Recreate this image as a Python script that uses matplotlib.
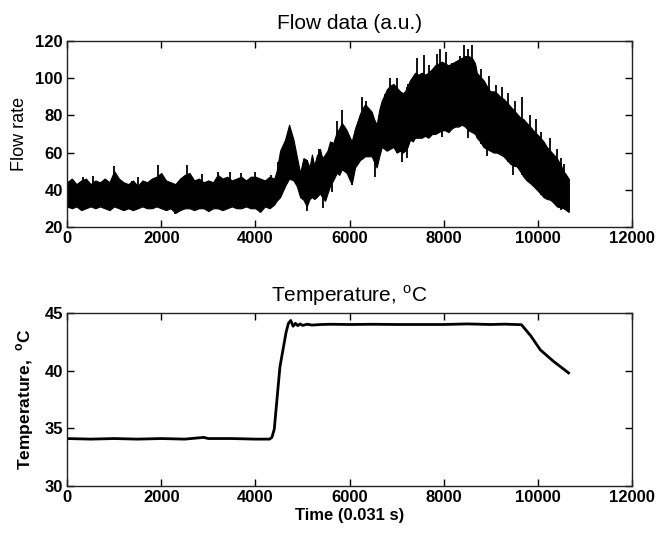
import numpy as np
import matplotlib.pyplot as plt

plt.rcParams['font.family'] = ['Liberation Sans', 'DejaVu Sans']
plt.rcParams['mathtext.fontset'] = 'custom'
plt.rcParams['mathtext.rm'] = 'Liberation Sans'
plt.rcParams['mathtext.bf'] = 'Liberation Sans:bold'

# Flow trace: dense band (upper / lower edge) ...
flow_x = [0, 100, 200, 300, 400, 500, 600, 700, 800, 900, 1000, 1100, 1200, 1300,
          1400, 1500, 1600, 1700, 1800, 1900, 2000, 2100, 2200, 2300, 2400, 2500,
          2600, 2700, 2800, 2900, 3000, 3100, 3200, 3300, 3400, 3500, 3600, 3700,
          3800, 3900, 4000, 4100, 4200, 4300, 4400, 4450, 4524, 4630, 4715, 4808,
          4878, 4949, 5020, 5090, 5150, 5200, 5250, 5300, 5370, 5420, 5480, 5530,
          5585, 5650, 5727, 5780, 5833, 5890, 5939, 5990, 6045, 6116, 6170, 6222,
          6280, 6328, 6400, 6470, 6520, 6575, 6630, 6682, 6740, 6788, 6860, 6930,
          7000, 7072, 7130, 7178, 7230, 7285, 7340, 7390, 7460, 7532, 7600, 7674,
          7750, 7816, 7890, 7957, 8030, 8099, 8170, 8240, 8310, 8382, 8450, 8524,
          8600, 8665, 8701, 8770, 8843, 8910, 8985, 9060, 9127, 9200, 9268, 9340,
          9410, 9480, 9552, 9620, 9693, 9760, 9835, 9900, 9976, 10050, 10118,
          10190, 10260, 10330, 10401, 10470, 10543, 10600, 10650]
flow_hi = [44, 46, 43, 45, 46, 43, 45, 44, 46, 44, 50, 46, 44, 43,
           45, 42, 45, 44, 46, 47, 49, 45, 44, 43, 46, 48,
           49, 45, 46, 44, 45, 44, 48, 46, 47, 45, 46, 47,
           45, 47, 47, 46, 45, 47, 46, 50, 61, 67, 75, 67,
           58, 49, 57, 56, 52, 59, 53, 58, 62, 57, 59, 61,
           66, 65, 71, 73, 76, 74, 72, 69, 66, 73, 77, 81,
           84, 86, 84, 82, 78, 75, 83, 88, 91, 94, 96, 97,
           95, 93, 92, 93, 96, 99, 101, 103, 102, 103, 102, 103,
           105, 107, 108, 109, 108, 107, 108, 109, 110, 111, 112, 112,
           111, 108, 103, 101, 99, 96, 93, 93, 92, 90, 89, 87,
           85, 83, 81, 79, 78, 76, 74, 72, 70, 68, 66,
           63, 61, 59, 57, 54, 50, 48, 46]
flow_lo = [31, 30, 31, 29, 30, 31, 30, 31, 30, 29, 31, 30, 29, 30,
           29, 30, 31, 30, 30, 31, 30, 29, 30, 27.5, 29, 30,
           30, 29, 30, 30, 28.5, 30, 30, 29, 30, 31, 30, 30,
           31, 30, 30, 28, 31, 30, 32, 34, 36, 42, 46, 45,
           42, 36, 34.6, 31, 35, 36, 35, 36, 38, 36, 34, 38,
           42, 45, 49, 48, 51, 50, 49, 46, 43, 52, 54, 56,
           57, 58, 58, 58, 55, 52, 58, 63, 62, 61, 62, 63,
           60, 61, 60, 61, 63, 67, 66, 68, 68, 68, 69, 68,
           70, 70, 71, 72, 72, 71, 73, 74, 74, 75, 74, 72,
           71, 70, 68, 66, 63, 62, 61, 60, 60, 59, 58, 56,
           54, 53, 52.5, 50, 47, 45, 43.5, 42, 40, 38, 36,
           35, 34.6, 33, 31, 30.5, 30, 29, 28]

# ... plus the single spikes and dips that stick out of it
spike_x = [340, 560, 1006, 1500, 1926, 2542, 2860, 3200, 3450, 3700, 4000, 4330,
           4470, 5340, 5727, 5833, 6270, 6340, 6750, 6860, 7000, 7240, 7425, 7570,
           7680, 7850, 7930, 8040, 8170, 8350, 8420, 8520, 8600, 8800, 8971, 9112,
           9233, 9374, 9520, 9670, 9830, 9950, 10070, 10260, 10400, 10480, 10560]
spike_top = [47, 47.5, 52.8, 47, 53.3, 53.3, 48.5, 49.8, 49.5, 49, 49.5, 47.7,
             55, 62, 77, 83, 90, 88, 91.5, 100, 100, 97, 110.7, 112.5,
             107, 113, 116, 114, 108, 112, 118, 116, 118, 105, 101, 96.3,
             95.4, 92, 88, 90, 80, 78, 71, 68, 62, 57, 54]
dip_x = [1380, 2294, 2990, 4100, 5090, 5445, 5620, 6045, 6545, 7110, 7220, 7957,
         8520, 8920, 9480, 9800, 10040, 10300, 10480, 10650]
dip_bottom = [29, 27, 28.5, 28, 28.4, 30, 39, 42.6, 47, 55, 57, 68.5,
              67.6, 58, 48, 44, 39, 34.5, 29, 28]

# Temperature trace
temp_x = [0, 500, 1000, 1500, 2000, 2500, 2900, 3000, 3500, 4000, 4300, 4350,
          4400, 4520, 4650, 4700, 4750, 4800, 4850, 4900, 4950, 5000, 5100, 5200,
          5400, 5600, 6000, 6500, 7000, 8000, 8500, 9000, 9300, 9650, 9850,
          10050, 10330, 10650]
temp_y = [34.1, 34.05, 34.1, 34.05, 34.1, 34.05, 34.2, 34.1, 34.1, 34.05, 34.05,
          34.2, 34.9, 40.3, 43.3, 44.1, 44.35, 43.85, 44.1, 43.9, 44.05, 43.92,
          44.02, 43.95, 44.0, 44.02, 44.0, 44.02, 44.0, 44.0, 44.05, 44.0, 44.03,
          43.98, 43.0, 41.8, 40.8, 39.8]

x_ticks = [0, 2000, 4000, 6000, 8000, 10000, 12000]
flow_ticks = [20, 40, 60, 80, 100, 120]
temp_ticks = [30, 35, 40, 45]


def style_axes(ax):
    ax.tick_params(direction='in', top=True, right=True, length=5, width=1,
                   labelsize=12, pad=3)
    for lbl in ax.get_xticklabels() + ax.get_yticklabels():
        lbl.set_fontweight('bold')
    for sp in ax.spines.values():
        sp.set_linewidth(1)
        sp.set_color('#222222')


fig = plt.figure(figsize=(6.64, 5.35), dpi=100)
ax1 = fig.add_axes([0.101, 0.576, 0.851, 0.347])
ax2 = fig.add_axes([0.101, 0.092, 0.851, 0.323])

# top: flow
ax1.fill_between(flow_x, flow_lo, flow_hi, color='black', lw=0.8)
ax1.vlines(spike_x, np.interp(spike_x, flow_x, flow_lo), spike_top,
           color='black', lw=1.3)
ax1.vlines(dip_x, dip_bottom, np.interp(dip_x, flow_x, flow_hi),
           color='black', lw=1.3)
ax1.set_xlim(0, 12000)
ax1.set_ylim(20, 120)
ax1.set_xticks(x_ticks)
ax1.set_yticks(flow_ticks)
style_axes(ax1)
ax1.set_title('Flow data (a.u.)', fontsize=15, pad=9)
ax1.set_ylabel('Flow rate', fontsize=13, labelpad=5)

# bottom: temperature
ax2.plot(temp_x, temp_y, color='black', lw=2)
ax2.set_xlim(0, 12000)
ax2.set_ylim(30, 45)
ax2.set_xticks(x_ticks)
ax2.set_yticks(temp_ticks)
style_axes(ax2)
ax2.set_title('Temperature, $^{\\mathrm{o}}$C', fontsize=15, pad=8)
ax2.set_ylabel('Temperature,  $^{\\mathbf{o}}$C', fontsize=12.5, fontweight='bold',
               labelpad=6)
ax2.set_xlabel('Time (0.031 s)', fontsize=12, fontweight='bold', labelpad=2)

fig.savefig('out.png', dpi=100)
